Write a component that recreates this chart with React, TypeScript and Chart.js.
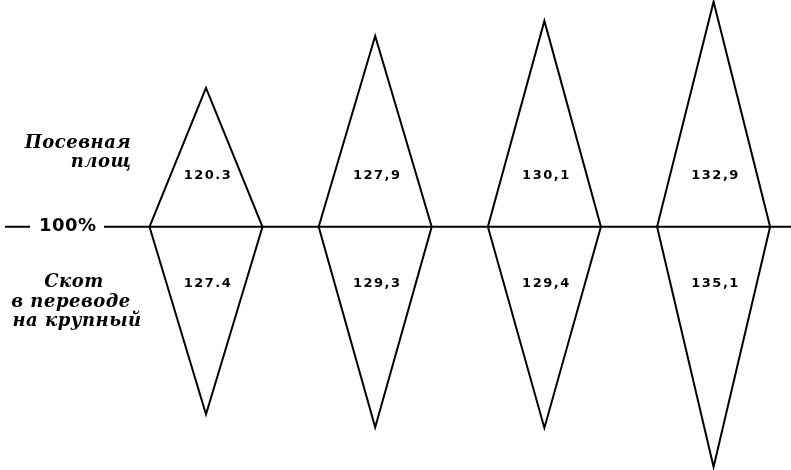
import React, { useEffect, useRef } from "react";
import { Chart, registerables } from "chart.js";

Chart.register(...registerables);

// Data (index 100% = base)
const periods = ["I", "II", "III", "IV"];
const sownArea = [120.3, 127.9, 130.1, 132.9]; // Посевная площадь, % of base
const livestock = [127.4, 129.3, 129.4, 135.1]; // Скот в переводе на крупный, % of base
const decimalMarks = [".", ",", ",", ","];
const baseValue = 100;
const baseLabel = "100%";
const upperTitle = ["Посевная", "площ"];
const lowerTitle = ["Скот", "в переводе", "на крупный"];

const HALF_WIDTH = 0.334;

function fmt(v: number, i: number) {
  return v.toFixed(1).replace(".", decimalMarks[i]);
}

const overlayPlugin = {
  id: "overlay",
  afterDatasetsDraw(chart: any) {
    const { ctx, scales } = chart;
    const xs = scales.x;
    const ys = scales.y;
    const y0 = ys.getPixelForValue(0);
    const W = chart.width;
    ctx.save();
    // baseline
    ctx.strokeStyle = "#000";
    ctx.lineWidth = 2;
    ctx.beginPath();
    ctx.moveTo(5, y0);
    ctx.lineTo(30, y0);
    ctx.moveTo(104, y0);
    ctx.lineTo(W, y0);
    ctx.stroke();
    ctx.fillStyle = "#000";
    ctx.textAlign = "left";
    ctx.textBaseline = "middle";
    ctx.font = "bold 18px 'DejaVu Sans'";
    (ctx as any).letterSpacing = "0.5px";
    ctx.fillText(baseLabel, 39, y0);

    // value labels
    ctx.textAlign = "center";
    ctx.font = "bold 13px 'DejaVu Sans'";
    (ctx as any).letterSpacing = "1.5px";
    periods.forEach((_, i) => {
      const x = xs.getPixelForValue(i);
      ctx.fillText(fmt(sownArea[i], i), x + 2, y0 - 51);
      ctx.fillText(fmt(livestock[i], i), x + 2, y0 + 57);
    });
    (ctx as any).letterSpacing = "0.5px";

    // side titles
    ctx.font = "italic bold 18px 'DejaVu Serif'";
    ctx.fillText(upperTitle[0], 78, y0 - 83);
    ctx.fillText(upperTitle[1], 101, y0 - 64);
    ctx.fillText(lowerTitle[0], 74, y0 + 56);
    ctx.fillText(lowerTitle[1], 71, y0 + 76);
    ctx.fillText(lowerTitle[2], 77, y0 + 95);
    ctx.restore();
  },
};

export default function App() {
  const ref = useRef<HTMLCanvasElement | null>(null);
  useEffect(() => {
    if (!ref.current) return;
    const datasets = periods.map((_, i) => ({
      label: periods[i],
      data: [
        { x: i - HALF_WIDTH, y: 0 },
        { x: i, y: sownArea[i] - baseValue },
        { x: i + HALF_WIDTH, y: 0 },
        { x: i, y: -(livestock[i] - baseValue) },
        { x: i - HALF_WIDTH, y: 0 },
      ],
      showLine: true,
      borderColor: "#000",
      borderWidth: 2,
      pointRadius: 0,
      fill: false,
      tension: 0,
      clip: false as any,
    }));
    const chart = new Chart(ref.current, {
      type: "scatter",
      data: { datasets },
      options: {
        animation: false,
        responsive: false,
        maintainAspectRatio: false,
        layout: { padding: 0 },
        scales: {
          x: { type: "linear", display: false, min: -1.2175, max: 3.4575 },
          y: { type: "linear", display: false, min: -35.55, max: 33.15 },
        },
        plugins: { legend: { display: false }, tooltip: { enabled: false } },
      },
      plugins: [overlayPlugin],
    });
    return () => chart.destroy();
  }, []);
  return (
    <div style={{ position: "fixed", left: 0, top: 0, width: 791, height: 470, background: "#fff" }}>
      <canvas ref={ref} width={791} height={470} />
    </div>
  );
}
